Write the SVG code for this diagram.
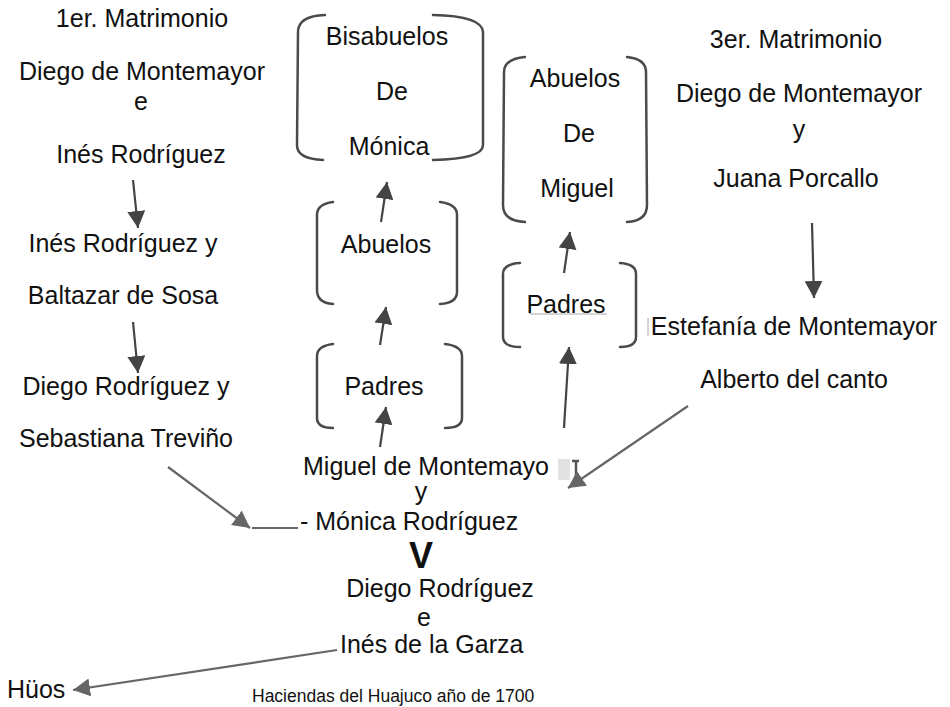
<svg xmlns="http://www.w3.org/2000/svg" width="950" height="707" viewBox="0 0 950 707">
<style>
  text { font-family: "Liberation Sans", Arial, sans-serif; font-size: 25px; fill: #111; }
  .c { text-anchor: middle; }
  .small { font-size: 17.5px; }
  .big { font-size: 36px; font-weight: bold; }
  .br { fill: none; stroke: #4a4a4a; stroke-width: 2.5; stroke-linecap: round; }
  .ad { stroke: #444; stroke-width: 2.2; fill: none; marker-end: url(#hd); }
  .ag { stroke: #666; stroke-width: 2.2; fill: none; marker-end: url(#hg); }
  .faint { stroke: #aaa; stroke-width: 1; fill: none; }
</style>
<defs>
  <marker id="hd" markerUnits="userSpaceOnUse" markerWidth="18" markerHeight="18" viewBox="0 0 18 18" refX="17" refY="9" orient="auto">
    <path d="M0,0 L17,9 L0,18 z" fill="#444"/>
  </marker>
  <marker id="hg" markerUnits="userSpaceOnUse" markerWidth="18" markerHeight="18" viewBox="0 0 18 18" refX="17" refY="9" orient="auto">
    <path d="M0,0 L17,9 L0,18 z" fill="#666"/>
  </marker>
</defs>
<rect width="950" height="707" fill="#fff"/>

<g id="matrimonio1">
  <text class="c" x="142" y="27">1er. Matrimonio</text>
  <text class="c" x="142" y="80">Diego de Montemayor</text>
  <text class="c" x="141" y="110">e</text>
  <text class="c" x="141" y="163">Inés Rodríguez</text>
</g>
<g id="ines-baltazar">
  <text class="c" x="123" y="252">Inés Rodríguez y</text>
  <text class="c" x="123" y="304">Baltazar de Sosa</text>
</g>
<g id="diego-sebastiana">
  <text class="c" x="126" y="395">Diego Rodríguez y</text>
  <text class="c" x="126" y="447">Sebastiana Treviño</text>
</g>

<g id="matrimonio3">
  <text class="c" x="796" y="48">3er. Matrimonio</text>
  <text class="c" x="799" y="102">Diego de Montemayor</text>
  <text class="c" x="799" y="138">y</text>
  <text class="c" x="796" y="187">Juana Porcallo</text>
</g>
<g id="estefania-alberto">
  <line class="faint" x1="648" y1="318" x2="648" y2="336"/>
  <text class="c" x="794" y="335">Estefanía de Montemayor</text>
  <text class="c" x="794" y="388">Alberto del canto</text>
</g>

<g id="bisabuelos-monica">
  <path class="br" d="M325,15 Q298,16 298,32 L297,145 Q297,159 323,160"/>
  <path class="br" d="M433,15 Q482,16 483,32 L483,145 Q483,159 433,160"/>
  <text class="c" x="387" y="45">Bisabuelos</text>
  <text class="c" x="392" y="100">De</text>
  <text class="c" x="389" y="155">Mónica</text>
</g>
<g id="abuelos-monica">
  <path class="br" d="M333,202 Q317,204 317,215 L317,290 Q317,303 333,304"/>
  <path class="br" d="M440,202 Q457,204 457,215 L457,292 Q457,303 440,304"/>
  <text class="c" x="386" y="253">Abuelos</text>
</g>
<g id="padres-monica">
  <path class="br" d="M333,344 Q317,346 317,356 L317,418 Q317,428 333,428"/>
  <path class="br" d="M445,344 Q462,346 462,356 L462,418 Q462,428 445,428"/>
  <text class="c" x="384" y="395">Padres</text>
</g>

<g id="abuelos-miguel">
  <path class="br" d="M525,57 Q504,59 504,72 L503,205 Q503,221 525,222"/>
  <path class="br" d="M627,57 Q646,59 646,72 L647,205 Q647,221 627,222"/>
  <text class="c" x="575" y="87">Abuelos</text>
  <text class="c" x="579" y="142">De</text>
  <text class="c" x="577" y="197">Miguel</text>
</g>
<g id="padres-miguel">
  <path class="br" d="M520,263 Q503,264 503,274 L503,337 Q503,347 520,347"/>
  <path class="br" d="M620,263 Q636,264 636,274 L636,337 Q636,347 620,347"/>
  <path class="faint" d="M530,297 L530,314 L607,314"/>
  <text class="c" x="566" y="313">Padres</text>
</g>

<g id="miguel-monica">
  <text x="303" y="475">Miguel de Montemayo</text>
  <rect x="558" y="459" width="12" height="21" fill="#e2e2e2"/>
  <path d="M572,461 L579,461 M576,461 L576,480" stroke="#555" stroke-width="2.5" fill="none"/>
  <text class="c" x="421" y="500">y</text>
  <text x="300" y="530">- Mónica Rodríguez</text>
  <text class="c big" x="421" y="568">V</text>
</g>
<g id="diego-ines">
  <text class="c" x="440" y="597">Diego Rodríguez</text>
  <text class="c" x="424" y="626">e</text>
  <text x="340" y="653">Inés de la Garza</text>
</g>
<g id="hijos">
  <text x="7" y="698">Hüos</text>
</g>
<g id="haciendas">
  <text class="small" x="252" y="702">Haciendas del Huajuco año de 1700</text>
</g>

<g id="connectors">
  <line class="ad" x1="133" y1="180" x2="138" y2="228"/>
  <line class="ad" x1="133" y1="322" x2="138" y2="373"/>
  <line class="ad" x1="812" y1="223" x2="814" y2="298"/>
  <line class="ag" x1="168" y1="467" x2="250" y2="528"/>
  <line x1="252" y1="528" x2="298" y2="528" stroke="#666" stroke-width="2"/>
  <line class="ag" x1="688" y1="406" x2="568" y2="488"/>
  <line class="ag" x1="337" y1="650" x2="73" y2="690"/>
  <line class="ad" x1="381" y1="222" x2="387" y2="182"/>
  <line class="ad" x1="380" y1="345" x2="386" y2="307"/>
  <line class="ad" x1="380" y1="447" x2="386" y2="407"/>
  <line class="ad" x1="564" y1="273" x2="570" y2="232"/>
  <line class="ad" x1="564" y1="428" x2="569" y2="347"/>
</g>
</svg>
